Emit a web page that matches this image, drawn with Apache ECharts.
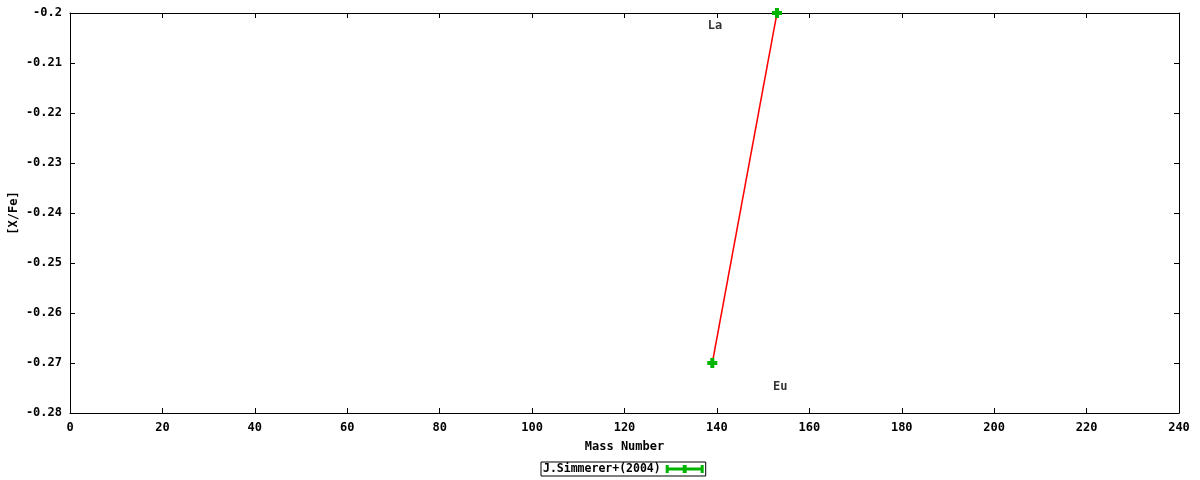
<!DOCTYPE html>
<html>
<head>
<meta charset="utf-8">
<style>
  html, body { margin: 0; padding: 0; background: #fff; }
  #main { width: 1200px; height: 480px; }
</style>
<script src="https://cdn.jsdelivr.net/npm/echarts@6/dist/echarts.min.js"></script>
</head>
<body>
<div id="main"></div>
<script>
// data
const massNumbers = [139, 153];
const xFeValues = [-0.27, -0.2];
const seriesName = 'J.Simmerer+(2004)';
// element labels: name, mass, value where the text sits
const labelNames = ['La', 'Eu'];
const labelMass = [139.6, 153.7];
const labelValues = [-0.2026, -0.2748];

const FONT = '"DejaVu Sans Mono", monospace';
const GREEN = '#00b400';
const cross = 'path://M3,0H7V3H10V7H7V10H3V7H0V3H3Z';
// error bar icon, 38 x 8
const errIcon = 'path://M0,0H3V2.5H17V0H21V2.5H35V0H38V8H35V5.5H21V8H17V5.5H3V8H0Z';

const chart = echarts.init(document.getElementById('main'));

let pts = massNumbers.map((m, i) => [m, xFeValues[i]]);
let labels = labelNames.map((n, i) => ({ name: n, value: [labelMass[i], labelValues[i]] }));

const txt = { fontFamily: FONT, fontSize: 12, fontWeight: 'bold', color: '#000' };

let option = {
  animation: false,
  textStyle: { fontFamily: FONT },
  grid: { left: 70, right: 21, top: 13, bottom: 67, show: false, outerBoundsMode: 'none', containLabel: false },
  legend: {
    bottom: 4,
    left: 541,
    data: [{ name: seriesName, icon: errIcon, itemStyle: { color: GREEN } }],
    align: 'right',
    itemWidth: 38,
    itemHeight: 8,
    itemGap: 4,
    padding: [1, 2, 1, 2],
    borderColor: '#000',
    borderWidth: 1,
    borderRadius: 0,
    textStyle: Object.assign({}, txt, { fontSize: 11.5 })
  },
  xAxis: [{
    type: 'value',
    min: 0,
    max: 240,
    interval: 20,
    name: 'Mass Number',
    nameLocation: 'middle',
    nameGap: 28,
    nameTextStyle: txt,
    axisLine: { onZero: false, lineStyle: { color: '#000', width: 1 } },
    axisTick: { inside: true, length: 5, lineStyle: { color: '#000' } },
    axisLabel: Object.assign({ margin: 9 }, txt),
    splitLine: { show: false }
  }, {
    // mirrored top frame
    type: 'value', min: 0, max: 240, interval: 20, position: 'top',
    axisLine: { onZero: false, lineStyle: { color: '#000' } },
    axisTick: { inside: true, length: 5, lineStyle: { color: '#000' } },
    axisLabel: { show: false }, splitLine: { show: false }
  }],
  yAxis: [{
    type: 'value',
    min: -0.28,
    max: -0.2,
    interval: 0.01,
    name: '[X/Fe]',
    nameLocation: 'middle',
    nameRotate: 90,
    nameGap: 50,
    nameMoveOverlap: false,
    nameTextStyle: txt,
    axisLine: { onZero: false, lineStyle: { color: '#000', width: 1 } },
    axisTick: { inside: true, length: 5, lineStyle: { color: '#000' } },
    axisLabel: Object.assign({
      margin: 8,
      formatter: v => String(Math.round(v * 100) / 100)
    }, txt),
    splitLine: { show: false }
  }, {
    // mirrored right frame
    type: 'value', min: -0.28, max: -0.2, interval: 0.01, position: 'right',
    axisLine: { onZero: false, lineStyle: { color: '#000' } },
    axisTick: { inside: true, length: 5, lineStyle: { color: '#000' } },
    axisLabel: { show: false }, splitLine: { show: false }
  }],
  series: [
    {
      // red connecting line
      type: 'line',
      data: pts,
      symbol: 'none',
      lineStyle: { color: '#ff0000', width: 1.5 },
      emphasis: { disabled: true },
      z: 2
    },
    {
      name: seriesName,
      type: 'scatter',
      data: pts,
      symbol: cross,
      symbolSize: 10,
      itemStyle: { color: GREEN, opacity: 1 },
      emphasis: { disabled: true },
      z: 3
    },
    {
      // element labels
      type: 'scatter',
      data: labels,
      symbolSize: 0,
      silent: true,
      label: Object.assign({
        show: true,
        position: 'inside',
        formatter: p => p.name
      }, txt)
    }
  ]
};
chart.setOption(option);
</script>
</body>
</html>
